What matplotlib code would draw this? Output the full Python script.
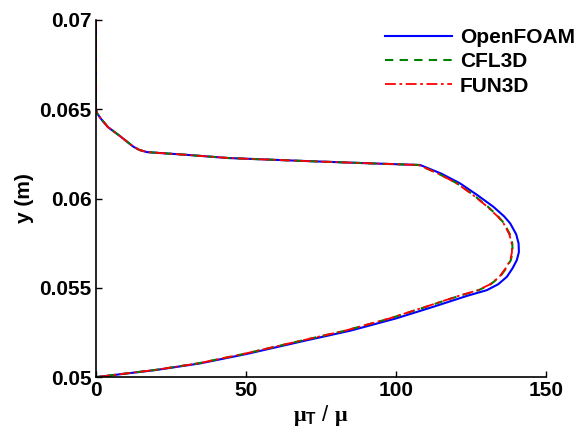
import matplotlib
matplotlib.use('Agg')
import matplotlib.pyplot as plt

plt.rcParams['font.family'] = ['Liberation Sans', 'DejaVu Sans']
plt.rcParams['font.weight'] = 'bold'
plt.rcParams['mathtext.fontset'] = 'custom'
plt.rcParams['mathtext.rm'] = 'Liberation Serif'
plt.rcParams['mathtext.it'] = 'Liberation Serif'
plt.rcParams['mathtext.bf'] = 'Liberation Sans:bold'

# shared y stations (m)
y_pts = [0.0700, 0.0660, 0.0650, 0.0648, 0.0645, 0.0640, 0.0635, 0.0629, 0.06272,
         0.0626, 0.06245, 0.06227, 0.0621, 0.06195, 0.06188, 0.0614, 0.06085, 0.0602,
         0.05954, 0.0590, 0.05861, 0.0580, 0.05749, 0.0570, 0.05655, 0.0561, 0.05562,
         0.0552, 0.05487, 0.05455, 0.05394, 0.05329, 0.0526, 0.05198, 0.05129,
         0.05077, 0.0504, 0.0502, 0.0500]

# OpenFOAM mu_T/mu
foam_x = [0, 0, 0, 0.3, 1.5, 4, 8, 12.5, 14.5, 17, 30, 44, 70, 95, 108, 115, 121.3,
          127, 132.4, 136, 138, 140, 140.8, 140.9, 140.2, 138.8, 136.9, 134, 130.2,
          123.6, 112.4, 100, 84.7, 68, 50, 34.7, 20, 10, 0]

# CFL3D mu_T/mu
cfl_x = [0, 0, 0, 0.3, 1.5, 4, 8, 12.5, 14.5, 17, 30, 44, 70, 95, 107.5, 114, 120.3,
         125.8, 130.6, 134, 136, 137.9, 138.7, 138.8, 138.2, 136.7, 134.6, 131.5, 127.5,
         121, 110, 98, 83, 66.8, 49, 34, 19.6, 9.8, 0]

# FUN3D mu_T/mu
fun_x = [0, 0, 0, 0.3, 1.5, 4, 8, 12.5, 14.5, 17, 30, 44, 70, 95, 107.5, 114, 120.2,
         125.6, 130.4, 133.8, 135.8, 137.7, 138.5, 138.6, 138.0, 136.5, 134.4, 131.3,
         127.3, 120.8, 109.8, 97.8, 82.9, 66.7, 48.9, 34, 19.6, 9.8, 0]

fig = plt.figure(figsize=(5.78, 4.34), dpi=100)
ax = fig.add_axes([0.166, 0.131, 0.779, 0.823])

ax.plot(foam_x, y_pts, color=(0, 0, 1), lw=1.5, label='OpenFOAM')
ax.plot(cfl_x, y_pts, color=(0, 0.5, 0), lw=1.5, ls=(0, (4, 3)), label='CFL3D')
ax.plot(fun_x, y_pts, color=(1, 0, 0), lw=1.3, ls=(0, (6, 2, 1.5, 2)), label='FUN3D')

ax.set_xlim(0, 150)
ax.set_ylim(0.05, 0.07)
ax.set_xticks([0, 50, 100, 150])
ax.set_yticks([0.05, 0.055, 0.06, 0.065, 0.07])
ax.set_yticklabels(['0.05', '0.055', '0.06', '0.065', '0.07'])
ax.tick_params(direction='in', length=4, width=1, labelsize=15, pad=3)
for s in ['top', 'right']:
    ax.spines[s].set_visible(False)
for s in ['left', 'bottom']:
    ax.spines[s].set_linewidth(1.2)

ax.set_xlabel(r'$\mu_{\mathbf{T}}$ / $\mu$', fontsize=16, labelpad=2)
ax.set_ylabel('y (m)', fontsize=15, fontweight='bold', labelpad=4)

ax.legend(loc='upper right', bbox_to_anchor=(0.995, 0.935), bbox_transform=fig.transFigure,
          frameon=False, fontsize=15, handlelength=3.2, handletextpad=0.4,
          labelspacing=0.25, borderpad=0, borderaxespad=0)

fig.savefig('out.png', dpi=100)
